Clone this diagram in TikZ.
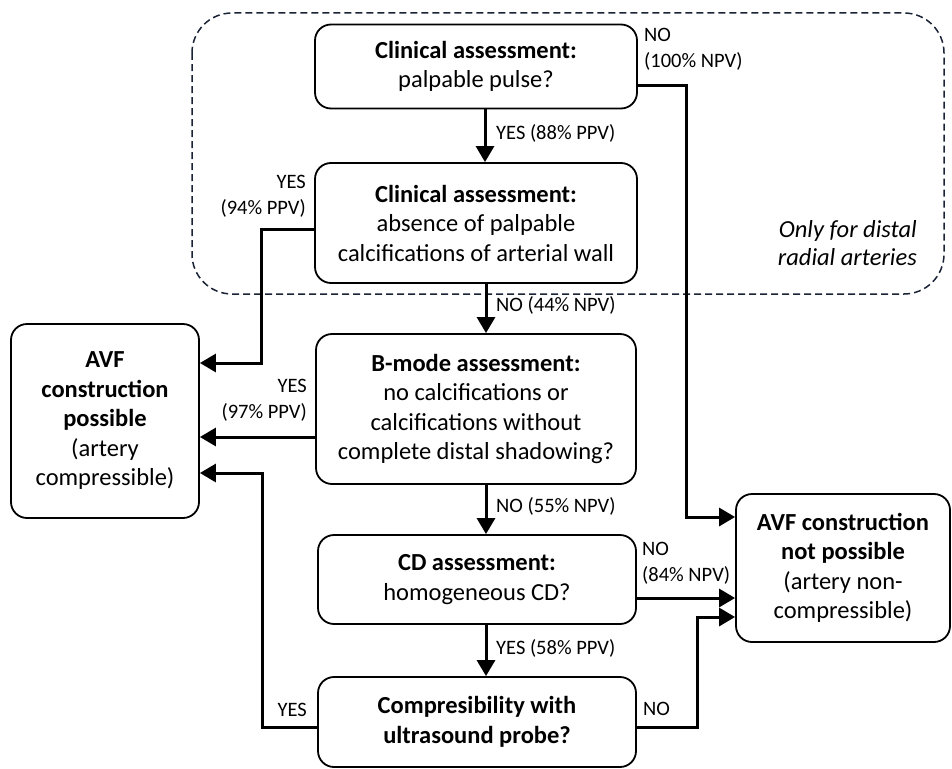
\documentclass[tikz,border=0pt]{standalone}
\usepackage{fontspec}
\setmainfont{Carlito}
\usetikzlibrary{arrows.meta}

\definecolor{darknavy}{HTML}{1A2236}

\tikzset{
  box/.style={draw, line width=1.8pt, rounded corners=16pt, align=center,
    inner sep=0pt, font=\fontsize{24.5}{29.5}\selectfont},
  lbl/.style={inner sep=0pt, font=\fontsize{20.5}{26}\selectfont},
  flow/.style={line width=3pt, -{Triangle[length=16pt,width=18pt]}},
}

\begin{document}
\begin{tikzpicture}[x=1pt,y=-1pt]
  \useasboundingbox (0,0) rectangle (952,768);

  % region for distal radial arteries
  \draw[darknavy, line width=1.5pt, dash pattern=on 7pt off 4pt, rounded corners=40pt]
    (192,13) rectangle (944,294);
  \node[lbl, align=right, anchor=east, font=\fontsize{24.5}{28.5}\selectfont\itshape] (region) at (917,243)
    {Only for distal\\radial arteries};

  % decision boxes
  \node[box, minimum width=322pt, minimum height=84pt] (b1) at (476,66.5)
    {\textbf{Clinical assessment:}\\palpable pulse?};
  \node[box, minimum width=322pt, minimum height=120pt] (b2) at (476,223)
    {\textbf{Clinical assessment:}\\absence of palpable\\calcifications of arterial wall};
  \node[box, minimum width=320pt, minimum height=150pt] (b3) at (476,409)
    {\textbf{B-mode assessment:}\\no calcifications or\\calcifications without\\complete distal shadowing?};
  \node[box, minimum width=318pt, minimum height=89pt] (b4) at (477,579.5)
    {\textbf{CD assessment:}\\homogeneous CD?};
  \node[box, minimum width=318pt, minimum height=90pt] (b5) at (477,722)
    {\textbf{Compresibility with}\\\textbf{ultrasound probe?}};

  % outcomes
  \node[box, minimum width=188pt, minimum height=194pt] (lbox) at (105,421)
    {\textbf{AVF}\\\textbf{construction}\\\textbf{possible}\\(artery\\compressible)};
  \node[box, minimum width=214pt, minimum height=148pt] (rbox) at (843,568)
    {\textbf{AVF construction}\\\textbf{not possible}\\(artery non-\\compressible)};

  % connectors
  \draw[flow] ([xshift=9pt]b1.south) -- ([xshift=9pt]b1.south |- b2.north);
  \draw[flow] ([xshift=10pt]b2.south) -- ([xshift=10pt]b2.south |- b3.north);
  \draw[flow] ([xshift=10pt]b3.south) -- ([xshift=10pt]b3.south |- b4.north);
  \draw[flow] ([xshift=9pt]b4.south) -- ([xshift=9pt]b4.south |- b5.north);

  \draw[flow] ([yshift=-18.5pt]b1.east) -- (686,85) |- ([yshift=51pt]rbox.west);
  \draw[flow] ([yshift=-6pt]b2.west) -- (261,229) |- ([yshift=58pt]lbox.east);
  \draw[flow] ([yshift=-28pt]b3.west) -- ([yshift=-28pt]b3.west -| lbox.east);
  \draw[flow] ([yshift=-5pt]b5.west) -- (262,727) |- ([yshift=-52pt]lbox.east);
  \draw[flow] ([yshift=-18.5pt]b4.east) -- ([yshift=-18.5pt]b4.east -| rbox.west);
  \draw[flow] ([yshift=-5pt]b5.east) -- (697,727) |- ([yshift=-49pt]rbox.west);

  % answers
  \node[lbl, align=left, anchor=north west] (no1) at (644,28) {NO\\(100\% NPV)};
  \node[lbl, anchor=west] (yes1) at (496,133) {YES (88\% PPV)};
  \node[lbl, align=right, anchor=north east] (yes2) at (306,175) {YES\\(94\% PPV)};
  \node[lbl, anchor=west] (no2) at (496,305) {NO (44\% NPV)};
  \node[lbl, align=right, anchor=north east] (yes3) at (307,379) {YES\\(97\% PPV)};
  \node[lbl, anchor=west] (no3) at (496,506) {NO (55\% NPV)};
  \node[lbl, align=left, anchor=north west] (no4) at (642,542) {NO\\(84\% NPV)};
  \node[lbl, anchor=west] (yes4) at (496,648) {YES (58\% PPV)};
  \node[lbl, anchor=east] (yes5) at (307,710) {YES};
  \node[lbl, anchor=west] (no5) at (643,709) {NO};
\end{tikzpicture}
\end{document}
